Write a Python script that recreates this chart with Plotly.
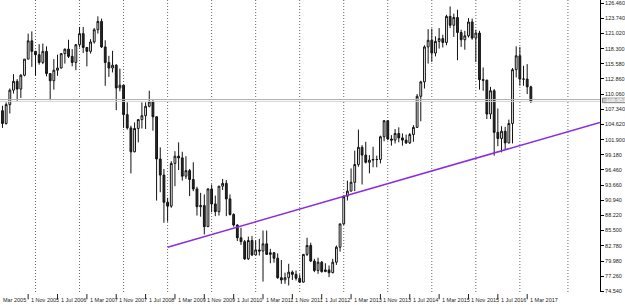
import plotly.graph_objects as go

# Monthly candles, Apr 2005 .. Apr 2017 (index 0 = Apr 2005)
opens = [107.1,104.8,108.2,110.8,112.4,111.0,113.5,116.4,119.7,
         117.8,117.2,115.8,117.8,113.8,112.5,114.4,114.8,117.4,118.2,116.9,115.8,
         119.0,121.0,118.5,117.8,119.5,121.7,123.2,118.6,115.8,114.8,115.3,111.2,
         111.7,106.4,104.0,99.7,103.9,105.5,106.2,107.9,108.7,106.0,98.4,95.5,
         90.6,89.9,97.6,98.9,98.6,95.3,96.3,94.7,93.0,89.8,90.0,86.2,
         93.0,90.3,88.9,93.5,94.0,91.2,88.4,86.5,84.2,83.5,80.4,83.7,
         81.1,82.0,81.8,83.1,81.2,81.5,80.5,77.0,76.6,77.0,78.0,77.6,
         76.9,76.2,81.2,82.8,80.0,78.3,79.8,78.1,78.4,77.9,79.8,82.5,
         86.7,91.7,92.6,94.2,97.4,100.5,99.1,97.8,98.2,98.3,98.3,102.4,
         105.3,102.0,101.8,103.0,102.2,101.8,101.3,102.8,104.1,109.7,112.3,118.6,
         119.8,117.5,119.6,120.1,119.4,124.1,122.5,123.9,121.2,119.9,120.6,123.1,
         120.2,121.1,112.7,112.6,106.5,110.7,103.2,102.1,103.4,101.3,104.8,114.5,
         117.0,112.8,112.8,111.4]
highs = [108.0,108.6,111.1,113.7,112.8,113.7,116.4,121.0,121.4,
         117.9,119.1,119.2,118.7,113.9,116.4,117.2,117.4,118.3,119.9,118.2,119.1,
         122.2,122.2,118.6,120.0,122.0,124.1,123.7,119.8,117.0,117.9,115.5,114.7,
         111.7,108.6,104.4,105.0,105.6,108.6,108.6,110.7,109.0,106.1,100.5,96.6,
         91.4,98.0,99.8,101.4,99.7,98.9,96.6,97.8,93.4,92.3,92.0,93.1,
         93.8,91.8,93.5,94.8,94.6,92.0,88.6,86.6,86.0,83.8,84.4,84.5,
         83.7,84.0,85.5,85.5,82.2,81.6,81.4,80.2,77.9,79.5,78.3,78.3,
         77.6,81.2,84.2,83.3,80.4,80.6,80.0,79.6,79.2,80.4,82.8,86.6,
         91.3,94.5,96.7,99.9,103.7,100.9,101.5,99.1,100.6,99.0,102.6,105.4,
         105.4,102.7,103.8,104.1,103.0,102.8,103.1,104.5,110.1,112.5,118.9,121.8,
         121.9,120.5,122.0,120.8,124.4,125.9,124.6,125.3,121.7,121.5,123.8,123.7,
         121.7,121.5,114.9,112.7,111.4,111.0,107.5,104.3,104.2,105.5,114.8,118.7,
         118.6,115.2,115.5,111.6]
lows = [104.0,104.6,106.6,110.2,108.9,109.4,113.3,116.4,115.0,
        113.4,115.4,115.5,113.3,109.0,110.9,113.4,114.7,115.6,116.6,115.1,114.4,
        118.5,117.5,115.1,117.4,119.2,121.0,118.4,111.6,113.2,114.0,107.2,110.6,
        104.0,103.7,95.8,99.6,101.4,103.9,103.8,107.7,103.5,90.9,92.4,86.9,
        87.1,89.6,93.5,96.4,94.5,94.8,91.7,92.6,88.2,88.0,84.8,86.3,
        88.8,88.1,88.2,92.8,88.1,88.2,86.2,83.6,82.9,80.2,80.2,80.9,
        81.1,81.0,76.3,81.2,79.6,79.7,76.8,75.9,75.9,75.6,76.6,76.5,
        76.1,76.1,80.9,79.8,78.0,77.7,77.9,78.0,77.1,77.8,79.3,81.7,
        86.5,90.9,92.6,92.6,97.0,93.8,97.6,95.8,96.9,96.9,97.6,101.6,
        101.8,100.8,101.2,101.4,100.8,101.1,101.1,101.5,104.0,105.2,111.1,115.6,
        115.9,116.9,118.3,118.5,118.9,122.0,120.4,116.2,118.6,118.1,120.3,119.9,
        115.9,110.9,110.7,105.6,105.6,99.0,100.7,99.6,100.1,101.2,101.2,113.1,
        111.6,111.6,110.1,108.5]
closes = [104.8,108.2,110.8,112.4,111.0,113.5,116.4,119.7,117.8,
          117.2,115.8,117.8,113.8,112.5,114.4,114.8,117.4,118.2,116.9,115.8,119.0,
          121.0,118.5,117.8,119.5,121.7,123.2,118.6,115.8,114.8,115.3,111.2,111.7,
          106.4,104.0,99.7,103.9,105.5,106.2,107.9,108.7,106.0,98.4,95.5,90.6,
          89.9,97.6,98.9,98.6,95.3,96.3,94.7,93.0,89.8,90.0,86.2,93.0,
          90.3,88.9,93.5,94.0,91.2,88.4,86.5,84.2,83.5,80.4,83.7,81.1,
          82.0,81.8,83.1,81.2,81.5,80.5,77.0,76.6,77.0,78.0,77.6,76.9,
          76.2,81.2,82.8,80.0,78.3,79.8,78.1,78.4,77.9,79.8,82.5,86.7,
          91.7,92.6,94.2,97.4,100.5,99.1,97.8,98.2,98.3,98.3,102.4,105.3,
          102.0,101.8,103.0,102.2,101.8,101.3,102.8,104.1,109.7,112.3,118.6,119.8,
          117.5,119.6,120.1,119.4,124.1,122.5,123.9,121.2,119.9,120.6,123.1,120.2,
          121.1,112.7,112.6,106.5,110.7,103.2,102.1,103.4,101.3,104.8,114.5,117.0,
          112.8,112.8,111.4,108.8]
months = list(range(len(closes)))

# price scale labels (right axis)
price_ticks = [126.46,123.74,121.02,118.30,115.58,112.86,110.06,107.34,104.62,101.90,
               99.18,96.46,93.66,90.94,88.22,85.50,82.78,79.98,77.26,74.54]
# time scale labels (month index, text)
date_idx = [-1,7,15,23,31,39,47,55,63,71,79,87,95,103,111,119,127,135,143]
date_txt = ["1 Mar 2005","1 Nov 2005","1 Jul 2006","1 Mar 2007","1 Nov 2007","1 Jul 2008",
            "1 Mar 2009","1 Nov 2009","1 Jul 2010","1 Mar 2011","1 Nov 2011","1 Jul 2012",
            "1 Mar 2013","1 Nov 2013","1 Jul 2014","1 Mar 2015","1 Nov 2015","1 Jul 2016",
            "1 Mar 2017"]
# yearly separators (January of each year)
year_idx = [9,21,33,45,57,69,81,93,105,117,129,141,154.1]
# trend line end points
trend_x = [45, 162.84]
trend_y = [82.48, 105.0]
# bid level
bid_price = 108.95
bid_label = "108.951"

X_RANGE = [-0.676, 162.84]
FONT = "Liberation Sans"
fig = go.Figure()
fig.add_trace(go.Candlestick(
    x=months, open=opens, high=highs, low=lows, close=closes,
    increasing=dict(line=dict(color="#111111", width=1), fillcolor="#ffffff"),
    decreasing=dict(line=dict(color="#111111", width=1), fillcolor="#2a2a2a"),
    whiskerwidth=0, showlegend=False, hoverinfo="skip"))
fig.add_trace(go.Scatter(x=trend_x, y=trend_y, mode="lines",
                         line=dict(color="#8a2be2", width=1.5),
                         showlegend=False, hoverinfo="skip"))

shapes = []
for yi in year_idx:
    shapes.append(dict(type="line", xref="x", yref="paper", x0=yi, x1=yi, y0=0, y1=1,
                       line=dict(color="#666666", width=1, dash="1px,2px"), layer="below"))
shapes.append(dict(type="line", xref="paper", yref="y", x0=0, x1=1, y0=bid_price + 0.17,
                   y1=bid_price + 0.17, line=dict(color="#b0b0b0", width=1)))
shapes.append(dict(type="line", xref="paper", yref="y", x0=0, x1=1, y0=bid_price - 0.17,
                   y1=bid_price - 0.17, line=dict(color="#d4d4d4", width=1)))
shapes.append(dict(type="rect", xref="paper", yref="y", x0=1.004, x1=1.05,
                   y0=bid_price - 0.4, y1=bid_price + 0.42,
                   fillcolor="#c8c8c8", line=dict(color="#808080", width=1)))
annotations = []
for xi, t in zip(date_idx, date_txt):
    px = (xi - X_RANGE[0]) / (X_RANGE[1] - X_RANGE[0])
    if px < 0:
        # first label is clipped at the left edge: only its month/year part shows
        annotations.append(dict(x=0, y=0, xref="paper", yref="paper", text=t.split(" ", 1)[1],
                                showarrow=False, xanchor="left", yanchor="top", xshift=1,
                                yshift=-3, font=dict(family=FONT, size=5.5, color="#222222")))
        continue
    annotations.append(dict(x=px, y=0, xref="paper", yref="paper", text=t, showarrow=False,
                            xanchor="left", yanchor="top", xshift=1, yshift=-3,
                            font=dict(family=FONT, size=5.5, color="#222222")))
    shapes.append(dict(type="line", xref="x", yref="paper", x0=xi, x1=xi, y0=-0.007, y1=-0.025,
                       line=dict(color="#222222", width=1)))
annotations.append(dict(x=1.006, y=bid_price, xref="paper", yref="y", text=bid_label,
                        showarrow=False, xanchor="left", yanchor="middle",
                        font=dict(family=FONT, size=5.5, color="#ffffff")))

fig.update_layout(
    width=625, height=305,
    margin=dict(l=0, r=20, t=0, b=13),
    paper_bgcolor="#ffffff", plot_bgcolor="#ffffff",
    shapes=shapes, annotations=annotations,
    xaxis=dict(range=X_RANGE, showgrid=False, zeroline=False,
               showticklabels=False, ticks="", showline=False, rangeslider=dict(visible=False)),
    yaxis=dict(range=[74.42, 127.06], side="right", showgrid=False, zeroline=False,
               showline=True, linecolor="#000000", linewidth=1,
               ticks="outside", ticklen=3, tickcolor="#000000",
               tickvals=price_ticks, ticktext=[f"{v:.3f}" for v in price_ticks],
               tickfont=dict(family=FONT, size=5.5, color="#222222")),
)
fig.write_html("out.html")
